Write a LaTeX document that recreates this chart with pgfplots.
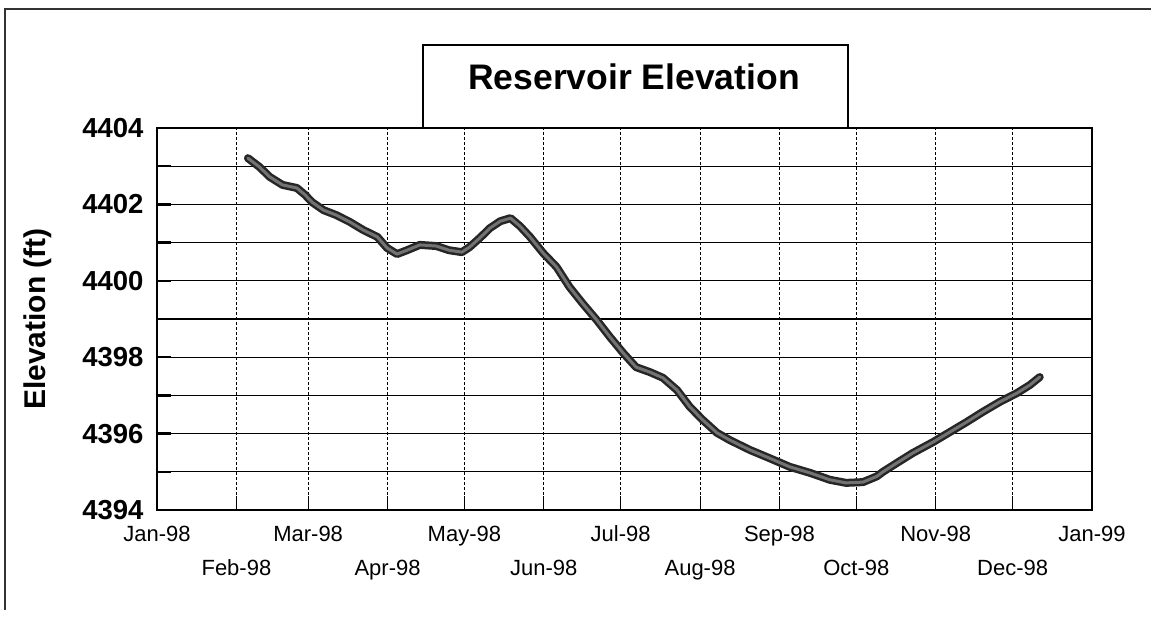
\documentclass[border=0pt]{standalone}
\usepackage{fontspec}
\setmainfont{Liberation Sans}
\usepackage{pgfplots}
\usepackage{pgfplotstable}
\pgfplotsset{compat=1.18}
\pgfplotstableread{
day elev
35.5 4403.21
40 4402.98
44 4402.72
49 4402.51
54.6 4402.43
57.8 4402.25
60.5 4402.06
65 4401.85
70 4401.72
75.3 4401.54
80.5 4401.33
86 4401.15
89.8 4400.86
93.7 4400.70
97.6 4400.80
102.6 4400.94
109 4400.91
114 4400.80
119 4400.75
122 4400.88
126 4401.12
130 4401.38
134 4401.56
138 4401.64
141.7 4401.43
145.6 4401.15
150.7 4400.73
156 4400.36
161 4399.84
166 4399.42
171.7 4398.97
176.8 4398.53
182 4398.11
187 4397.74
192.4 4397.61
197.5 4397.46
203 4397.14
208 4396.70
213 4396.36
218.6 4396.02
223.6 4395.83
231.5 4395.57
239 4395.36
247 4395.13
255 4394.97
262.7 4394.79
269 4394.71
275.6 4394.73
281 4394.88
283.4 4395.00
288.8 4395.23
295 4395.49
303 4395.78
309.5 4396.04
316 4396.30
322.4 4396.57
329 4396.83
335.7 4397.06
340.7 4397.27
344.6 4397.48
}\elev
\begin{document}
\begin{tikzpicture}
\useasboundingbox (0pt,0pt) rectangle (1151pt,618pt);
\draw[line width=2pt, black!80] (5pt,8pt) -- (5pt,609pt) -- (1151pt,609pt);
\begin{axis}[
  at={(157pt,108pt)}, anchor=south west, scale only axis,
  width=935pt, height=382pt,
  xmin=0, xmax=365, ymin=4394, ymax=4404,
  axis line style={line width=1.8pt, black},
  tick pos=left, tick align=inside,
  major tick length=14pt, minor tick length=14pt,
  xtick={0,59,120,181,243,304,365},
  xticklabels={Jan-98,Mar-98,May-98,Jul-98,Sep-98,Nov-98,Jan-99},
  extra x ticks={31,90,151,212,273,334},
  extra x tick labels={Feb-98,Apr-98,Jun-98,Aug-98,Oct-98,Dec-98},
  extra x tick style={grid=major, xticklabel style={yshift=-34pt}},
  ytick={4394,4396,...,4404},
  minor ytick={4395,4397,...,4403},
  grid=both,
  major x grid style={black, densely dashed, line width=1pt},
  major y grid style={black, line width=1.3pt},
  minor y grid style={black, line width=1.3pt},
  x tick style={line width=0.8pt, black},
  y tick style={line width=2.5pt, black},
  xticklabel style={font=\fontsize{22}{22}\selectfont, text height=16pt, text depth=5pt, yshift=-12pt},
  yticklabel style={font=\bfseries\fontsize{27.5}{27.5}\selectfont, xshift=-10pt},
  /pgf/number format/assume math mode=true,
  /pgf/number format/set thousands separator={},
]
\addplot[black!85, line width=8pt, line join=round, line cap=round] table[x=day,y=elev] {\elev};
\addplot[black!55, line width=3pt, line join=round, line cap=round] table[x=day,y=elev] {\elev};
\end{axis}
\node[draw=black, line width=1.8pt, fill=white, minimum width=425pt, minimum height=83pt, inner sep=0pt] at (635.5pt,531.5pt) {};
\node[anchor=base, inner sep=0pt, font=\bfseries\fontsize{35.5}{35.5}\selectfont] at (634pt,528pt) {Reservoir Elevation};
\node[rotate=90, font=\bfseries\fontsize{30}{30}\selectfont] at (38pt,299pt) {Elevation (ft)};
\end{tikzpicture}
\end{document}
